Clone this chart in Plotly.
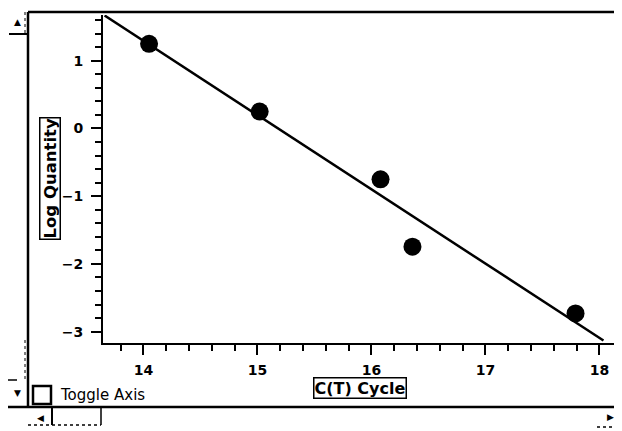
import numpy as np
import plotly.graph_objects as go

# ---- data ----
ct_cycle = [14.05, 15.02, 16.08, 16.36, 17.79]
log_quantity = [1.25, 0.25, -0.75, -1.745, -2.73]
fit_x_range = [13.66, 18.035]
x_tick_vals = [14, 15, 16, 17, 18]
x_tick_text = ["14", "15", "16", "17", "18"]
y_tick_vals = [1, 0, -1, -2, -3]
y_tick_text = ["1", "0", "\u22121", "\u22122", "\u22123"]
x_title = "C(T) Cycle"
y_title = "Log Quantity"
toggle_text = "Toggle Axis"

# the page body has an 8px margin, so the figure starts at (8, 8) in the window
OFF = 8
W, H = 622 - OFF, 431 - OFF
slope, intercept = np.polyfit(ct_cycle, log_quantity, 1)
fit_y = [slope * x + intercept for x in fit_x_range]


def px(x):
    return (x - OFF) / W


def py(y):
    return 1 - (y - OFF) / H


fig = go.Figure()
fig.add_trace(go.Scatter(x=fit_x_range, y=fit_y, mode="lines",
                         line=dict(color="black", width=2.5), hoverinfo="skip"))
fig.add_trace(go.Scatter(x=ct_cycle, y=log_quantity, mode="markers",
                         marker=dict(color="black", size=18, line=dict(width=0))))

tickfont = dict(family="DejaVu Sans, sans-serif", size=14, color="black", weight="bold")

common = dict(ticks="outside", ticklen=10, tickwidth=2, tickcolor="black",
              showline=True, linecolor="black", linewidth=2,
              showgrid=False, zeroline=False, tickfont=tickfont,
              minor=dict(dtick=0.2, ticks="outside", ticklen=6, tickwidth=2,
                         tickcolor="black", showgrid=False))

fig.update_layout(
    width=W, height=H,
    margin=dict(l=0, r=0, t=0, b=0),
    paper_bgcolor="white", plot_bgcolor="white",
    showlegend=False,
    xaxis=dict(domain=[px(103), px(620)], range=[13.646, 18.18],
               tickvals=x_tick_vals, ticktext=x_tick_text,
               ticklabelstandoff=3, anchor="y", **common),
    yaxis=dict(domain=[py(343), py(15)], range=[-3.167, 1.675],
               tickvals=y_tick_vals, ticktext=y_tick_text,
               ticklabelstandoff=5, anchor="x", **common),
)

shapes = []


def pline(x0, y0, x1, y1, w=2, dash="solid"):
    shapes.append(dict(type="line", xref="paper", yref="paper",
                       x0=px(x0), y0=py(y0), x1=px(x1), y1=py(y1),
                       line=dict(color="black", width=w, dash=dash)))


# outer frame
pline(28, 12, 620, 12, 2.5)
pline(28, 12, 28, 408, 2.5)
pline(620, 12, 620, 408, 2.5)
pline(8, 407, 620, 407, 2.5)
# left scroll strip
pline(9, 34, 28, 34, 2)
pline(25, 12, 25, 34, 1, "dot")
pline(8, 380, 26, 380, 1.5, "dash")
pline(25, 340, 25, 380, 1, "dot")
# bottom scroll strip
pline(52, 407, 52, 425, 2)
pline(101, 407, 101, 425, 1.5)
pline(28, 425, 101, 425, 1.5, "dot")
pline(597, 427, 620, 427, 1.5, "dot")
# checkbox
shapes.append(dict(type="rect", xref="paper", yref="paper",
                   x0=px(33), y0=py(404), x1=px(51), y1=py(386),
                   line=dict(color="black", width=2.5)))
fig.update_layout(shapes=shapes)

fig.add_annotation(text=x_title, xref="paper", yref="paper", x=px(360), y=py(388),
                   showarrow=False,
                   font=dict(family="DejaVu Sans, sans-serif", size=16, color="black", weight="bold"),
                   bordercolor="black", borderwidth=1.5,
                   borderpad=0, xanchor="center", yanchor="middle")
fig.add_annotation(text=y_title, xref="paper", yref="paper", x=px(50), y=py(179),
                   showarrow=False,
                   font=dict(family="DejaVu Sans, sans-serif", size=16.5, color="black", weight="bold"),
                   bordercolor="black", borderwidth=1.5,
                   borderpad=0, textangle=-90, xanchor="center", yanchor="middle")
fig.add_annotation(text=toggle_text, xref="paper", yref="paper", x=px(58), y=py(395),
                   showarrow=False, font=dict(family="DejaVu Sans, sans-serif", size=15, color="black"),
                   xanchor="left", yanchor="middle")
# scroll arrows
arrowfont = dict(family="DejaVu Sans", size=9, color="black")
for sym, x, y in [("\u25b2", 17, 22), ("\u25bc", 17, 393), ("\u25c0", 40, 418), ("\u25b6", 610, 417)]:
    fig.add_annotation(text=sym, xref="paper", yref="paper", x=px(x), y=py(y),
                       showarrow=False, font=arrowfont, xanchor="center", yanchor="middle")

fig.write_html("out.html")
